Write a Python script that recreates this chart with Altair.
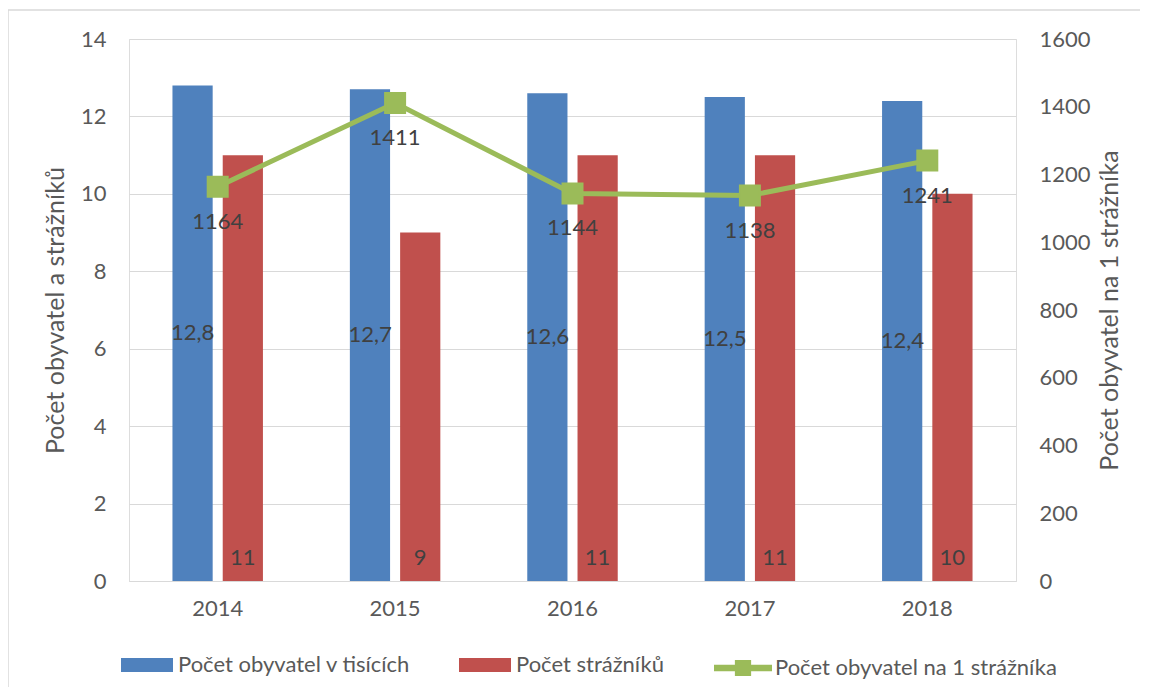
import altair as alt
import pandas as pd

years = ["2014", "2015", "2016", "2017", "2018"]
pop_thousands = [12.8, 12.7, 12.6, 12.5, 12.4]
guards = [11, 9, 11, 11, 10]
per_guard = [1164, 1411, 1144, 1138, 1241]

S_POP = "Počet obyvatel v tisících"
S_GRD = "Počet strážníků"
S_PER = "Počet obyvatel na 1 strážníka"

BLUE = "#4F81BD"
RED = "#C0504D"
GREEN = "#9BBB59"
TXT = "#595959"
LBL = "#404040"
FONT = "Lato"
TICK = 22
DATA = 22
LEG = 22
TITLE = 25

bars_df = pd.DataFrame(
    [{"year": y, "series": S_POP, "value": v} for y, v in zip(years, pop_thousands)]
    + [{"year": y, "series": S_GRD, "value": v} for y, v in zip(years, guards)]
)
line_df = pd.DataFrame({"year": years, "value": per_guard, "series": [S_PER] * len(years)})

x_enc = alt.X(
    "year:N",
    sort=years,
    title=None,
    scale=alt.Scale(paddingInner=0.49, paddingOuter=0.245),
    axis=alt.Axis(labelFontSize=TICK, labelColor=TXT, labelFont=FONT, ticks=False,
                  domain=True, domainColor="#D9D9D9", labelPadding=17, labelAngle=0),
)
y_left = alt.Y(
    "value:Q",
    scale=alt.Scale(domain=[0, 14]),
    title="Počet obyvatel a strážníků",
    axis=alt.Axis(values=[0, 2, 4, 6, 8, 10, 12, 14], labelFontSize=TICK, labelColor=TXT,
                  labelFont=FONT, ticks=False, domain=False, grid=True, gridColor="#D9D9D9",
                  labelPadding=23, titleFontSize=TITLE, titleColor=TXT, titleFont=FONT,
                  titleFontWeight="normal", titlePadding=12),
)

bars = alt.Chart(bars_df).mark_bar().encode(
    x=x_enc,
    xOffset=alt.XOffset("series:N", sort=[S_POP, S_GRD],
                        scale=alt.Scale(paddingInner=0.2, paddingOuter=0)),
    y=y_left,
    fill=alt.Fill(
        "series:N",
        scale=alt.Scale(domain=[S_POP, S_GRD], range=[BLUE, RED]),
        legend=alt.Legend(orient="none", legendX=-8, legendY=600, direction="horizontal",
                          title=None, symbolType="M-1,-0.27H1V0.27H-1Z", symbolSize=2704,
                          symbolStrokeWidth=0, labelFontSize=LEG, labelColor=TXT,
                          labelFont=FONT, columnPadding=48, labelOffset=5, labelLimit=0),
    ),
)

pop_labels = (
    alt.Chart(bars_df)
    .transform_filter(alt.datum.series == S_POP)
    .transform_calculate(mid="datum.value / 2",
                         lbl="replace(format(datum.value, '.1f'), '.', ',')")
    .mark_text(dx=-25, baseline="middle", fontSize=DATA, color=LBL, font=FONT)
    .encode(x=alt.X("year:N", sort=years), y=alt.Y("mid:Q"), text="lbl:N")
)

grd_labels = (
    alt.Chart(bars_df)
    .transform_filter(alt.datum.series == S_GRD)
    .transform_calculate(zero="0")
    .mark_text(dx=25, dy=-16, baseline="alphabetic", fontSize=DATA, color=LBL, font=FONT)
    .encode(x=alt.X("year:N", sort=years), y=alt.Y("zero:Q"), text="value:Q")
)

left = alt.layer(bars, pop_labels, grd_labels)

y_right = alt.Y(
    "value:Q",
    scale=alt.Scale(domain=[0, 1600]),
    title="Počet obyvatel na 1 strážníka",
    axis=alt.Axis(orient="right", values=list(range(0, 1601, 200)), format="d",
                  labelFontSize=TICK, labelColor=TXT, labelFont=FONT, ticks=False,
                  domain=False, grid=False, labelPadding=23, titleFontSize=TITLE,
                  titleColor=TXT, titleFont=FONT, titleFontWeight="normal",
                  titlePadding=32, titleAngle=-90),
)

line = alt.Chart(line_df).mark_line(
    strokeWidth=5,
    point=alt.OverlayMarkDef(shape="square", size=400, filled=True, color=GREEN, opacity=1),
).encode(
    x=alt.X("year:N", sort=years),
    y=y_right,
    stroke=alt.Stroke(
        "series:N",
        scale=alt.Scale(domain=[S_PER], range=[GREEN]),
        legend=alt.Legend(orient="none", legendX=585, legendY=600, direction="horizontal",
                          title=None,
                          symbolType="M-1,-0.11H1V0.11H-1Z M-0.28,-0.28H0.28V0.28H-0.28Z",
                          symbolSize=3364, symbolFillColor=GREEN, symbolStrokeWidth=0,
                          labelFontSize=LEG, labelColor=TXT, labelFont=FONT, labelOffset=3,
                          labelLimit=0),
    ),
)

line_labels = alt.Chart(line_df).mark_text(
    dy=35, baseline="middle", fontSize=DATA, color=LBL, font=FONT
).encode(x=alt.X("year:N", sort=years), y=alt.Y("value:Q"), text="value:Q")

right = alt.layer(line, line_labels)

border = (
    alt.Chart(alt.Data(values=[{"a": 1}]))
    .mark_rect(fill=None, stroke="#D9D9D9", strokeWidth=1.5)
    .encode(x=alt.value(-121), x2=alt.value(1040), y=alt.value(-29), y2=alt.value(680))
)

chart = (
    alt.layer(left, right, border)
    .resolve_scale(y="independent")
    .properties(
        width=887,
        height=542,
        autosize=alt.AutoSizeParams(type="none"),
        padding={"left": 121, "top": 31, "right": 124, "bottom": 106},
    )
    .configure_view(stroke=None)
    .configure(background="white")
)

chart.save("out.html", embed_options={"renderer": "svg", "actions": False})
